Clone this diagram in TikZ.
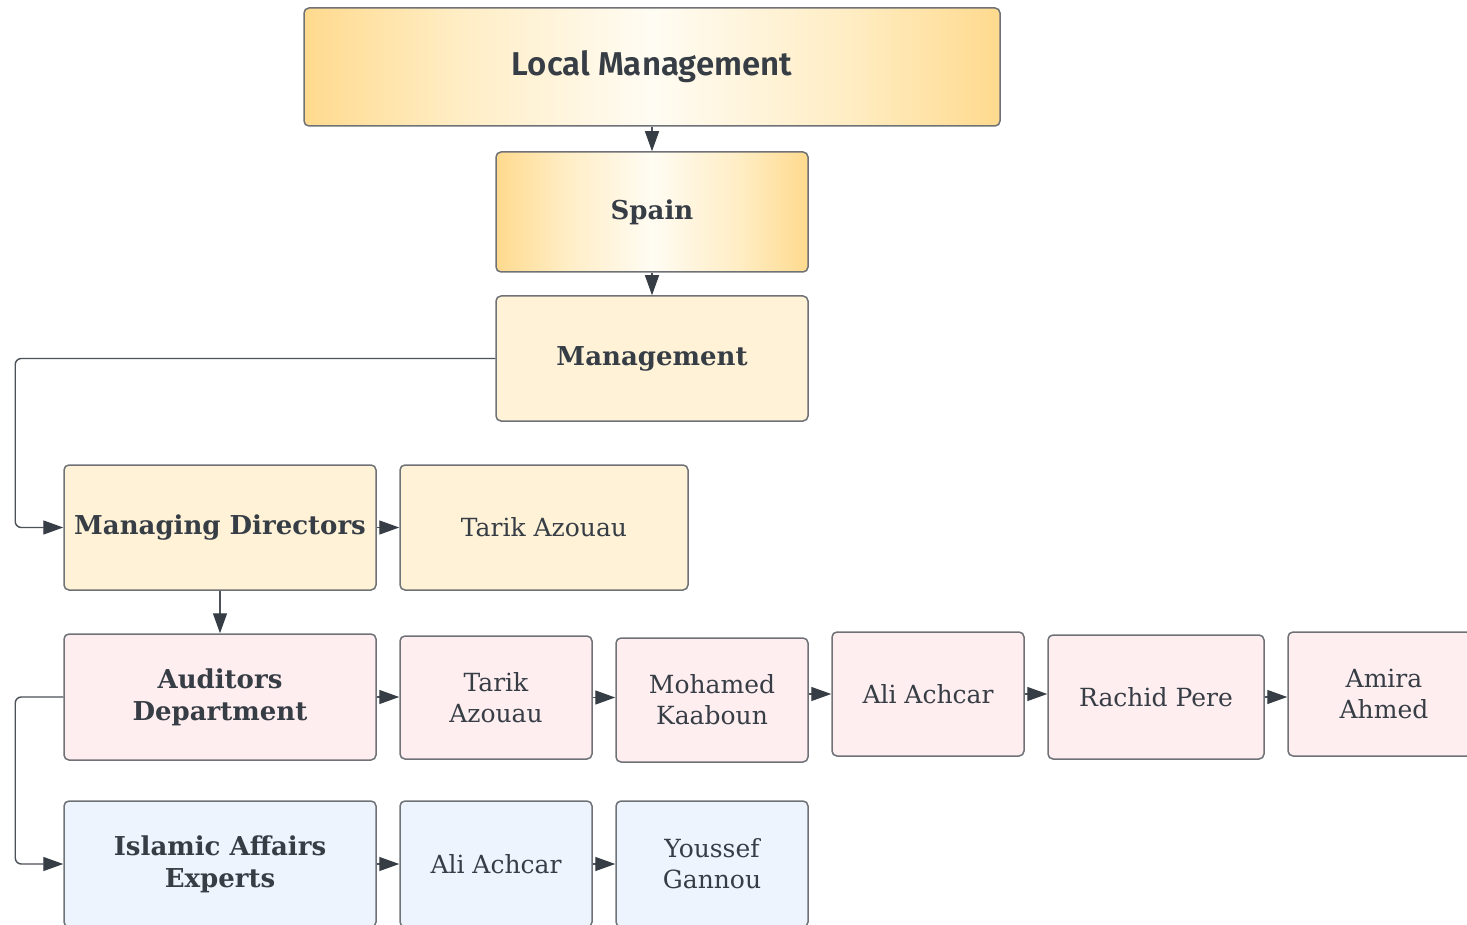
\documentclass[tikz,border=0pt]{standalone}
\usepackage{fontspec}
\usetikzlibrary{arrows.meta,calc}
\setmainfont{DejaVu Serif}
\newfontfamily\techfont{Fira Sans SemiBold}

\definecolor{inkc}{HTML}{363D45}
\definecolor{edgec}{HTML}{6E7176}
\definecolor{wirec}{HTML}{4C5259}
\definecolor{goldc}{HTML}{FFDA8E}
\definecolor{goldsoft}{HTML}{FFEDC4}
\definecolor{goldmid}{HTML}{FFFCF3}
\definecolor{creamc}{HTML}{FFF2D7}
\definecolor{pinkc}{HTML}{FFEEF0}
\definecolor{bluec}{HTML}{EDF4FE}

% edge-to-centre fade used by the two top boxes
\pgfdeclarehorizontalshading{goldfade}{100bp}{%
  color(0bp)=(goldc); color(25bp)=(goldc); color(36bp)=(goldsoft);
  color(50bp)=(goldmid);
  color(64bp)=(goldsoft); color(75bp)=(goldc); color(100bp)=(goldc)}

\tikzset{
  box/.style={draw=edgec, line width=1.5pt, rounded corners=5pt, text=inkc,
              align=center, inner sep=0pt},
  goldbox/.style={box, shading=goldfade},
  creambox/.style={box, fill=creamc},
  pinkbox/.style={box, fill=pinkc},
  bluebox/.style={box, fill=bluec},
  headtxt/.style={font=\fontsize{26}{32}\selectfont\bfseries},
  bodytxt/.style={font=\fontsize{25}{31}\selectfont},
  arr/.style={draw=wirec, line width=1.4pt,
              -{Triangle[length=20pt,width=14pt,fill=inkc,color=inkc]}},
}

\begin{document}
\begin{tikzpicture}[x=1pt, y=-1pt]
\useasboundingbox (0,0) rectangle (1467,925);
\clip (0,0) rectangle (1467,925);

% top of the hierarchy
\node[goldbox, minimum width=696pt, minimum height=118pt,
      font=\techfont\fontsize{33}{38}\selectfont] (local) at (652,67) {Local Management};
\node[goldbox, headtxt, minimum width=312pt, minimum height=120pt] (spain) at (652,212) {Spain};
\node[creambox, headtxt, minimum width=312pt, minimum height=125pt] (mgmt) at (652,358.5) {Management};

% managing directors row
\node[creambox, headtxt, minimum width=312pt, minimum height=125pt] (md) at (220,527.5) {Managing Directors};
\node[creambox, bodytxt, minimum width=288pt, minimum height=125pt] (mdname) at (544,527.5) {Tarik Azouau};

% auditors row
\node[pinkbox, headtxt, minimum width=312pt, minimum height=126pt] (aud) at (220,697) {Auditors\\Department};
\node[pinkbox, bodytxt, minimum width=192pt, minimum height=123pt] (aud1) at (496,697.5) {Tarik\\Azouau};
\node[pinkbox, bodytxt, minimum width=192pt, minimum height=124pt] (aud2) at (712,700) {Mohamed\\Kaaboun};
\node[pinkbox, bodytxt, minimum width=192pt, minimum height=124pt] (aud3) at (928,694) {Ali Achcar};
\node[pinkbox, bodytxt, minimum width=216pt, minimum height=124pt] (aud4) at (1156,697) {Rachid Pere};
\node[pinkbox, bodytxt, minimum width=192pt, minimum height=124pt] (aud5) at (1384,694) {Amira\\Ahmed};

% islamic affairs row
\node[bluebox, headtxt, minimum width=312pt, minimum height=126pt] (isl) at (220,864) {Islamic Affairs\\Experts};
\node[bluebox, bodytxt, minimum width=192pt, minimum height=126pt] (isl1) at (496,864) {Ali Achcar};
\node[bluebox, bodytxt, minimum width=192pt, minimum height=126pt] (isl2) at (712,864) {Youssef\\Gannou};

% vertical links
\draw[arr] (local.south) -- (spain.north);
\draw[arr] (spain.south) -- (mgmt.north);
\draw[arr] (md.south) -- (aud.north);

% elbow links along the left margin
\coordinate (railmd) at ($(md.west)+(-48,0)$);
\coordinate (railisl) at ($(isl.west)+(-48,0)$);
\draw[arr, rounded corners=6pt] (mgmt.west) -| (railmd) -- (md.west);
\draw[arr, rounded corners=6pt] (aud.west) -| (railisl) -- (isl.west);

% horizontal chains
\draw[arr] (md.east) -- (md.east -| mdname.west);
\draw[arr] (aud.east) -- (aud.east -| aud1.west);
\draw[arr] (aud1.east) -- (aud1.east -| aud2.west);
\draw[arr] (aud3.west -| aud2.east) -- (aud3.west);
\draw[arr] (aud3.east) -- (aud3.east -| aud4.west);
\draw[arr] (aud4.east) -- (aud4.east -| aud5.west);
\draw[arr] (isl.east) -- (isl.east -| isl1.west);
\draw[arr] (isl1.east) -- (isl1.east -| isl2.west);
\end{tikzpicture}
\end{document}
